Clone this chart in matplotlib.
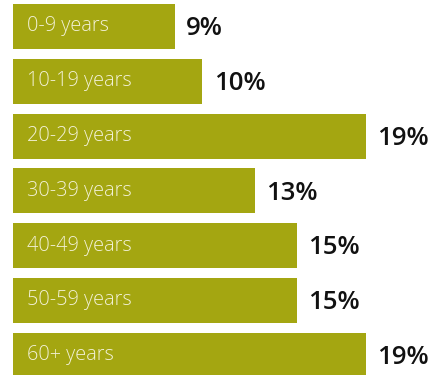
import matplotlib
matplotlib.use("Agg")
import matplotlib.pyplot as plt

# Share of population by age group (%)
age_groups = ["0-9 years", "10-19 years", "20-29 years", "30-39 years",
              "40-49 years", "50-59 years", "60+ years"]
shares = [8.7, 10.2, 19.0, 13.0, 15.3, 15.3, 19.0]

bar_color = "#a4a611"
label_color = "#f2f1d6"

fig = plt.figure(figsize=(4.31, 3.75), dpi=100)
ax = fig.add_axes([0, 0, 1, 1])

positions = list(range(len(age_groups)))
ax.barh(positions, shares, height=0.82, color=bar_color, left=0)

for pos, grp, val in zip(positions, age_groups, shares):
    ax.text(0.75, pos + 0.09, grp, ha="left", va="baseline",
            fontsize=14.3, family="Open Sans", fontweight="light", color=label_color)
    ax.text(val + 0.6, pos + 0.16, f"{val:.0f}%", ha="left", va="baseline",
            fontsize=18.5, family="Open Sans", fontweight="semibold", color="#111111")

ax.set_xlim(-0.70, 22.5)
ax.set_ylim(6.36, -0.484)
ax.axis("off")

fig.savefig("out.png", dpi=100)
